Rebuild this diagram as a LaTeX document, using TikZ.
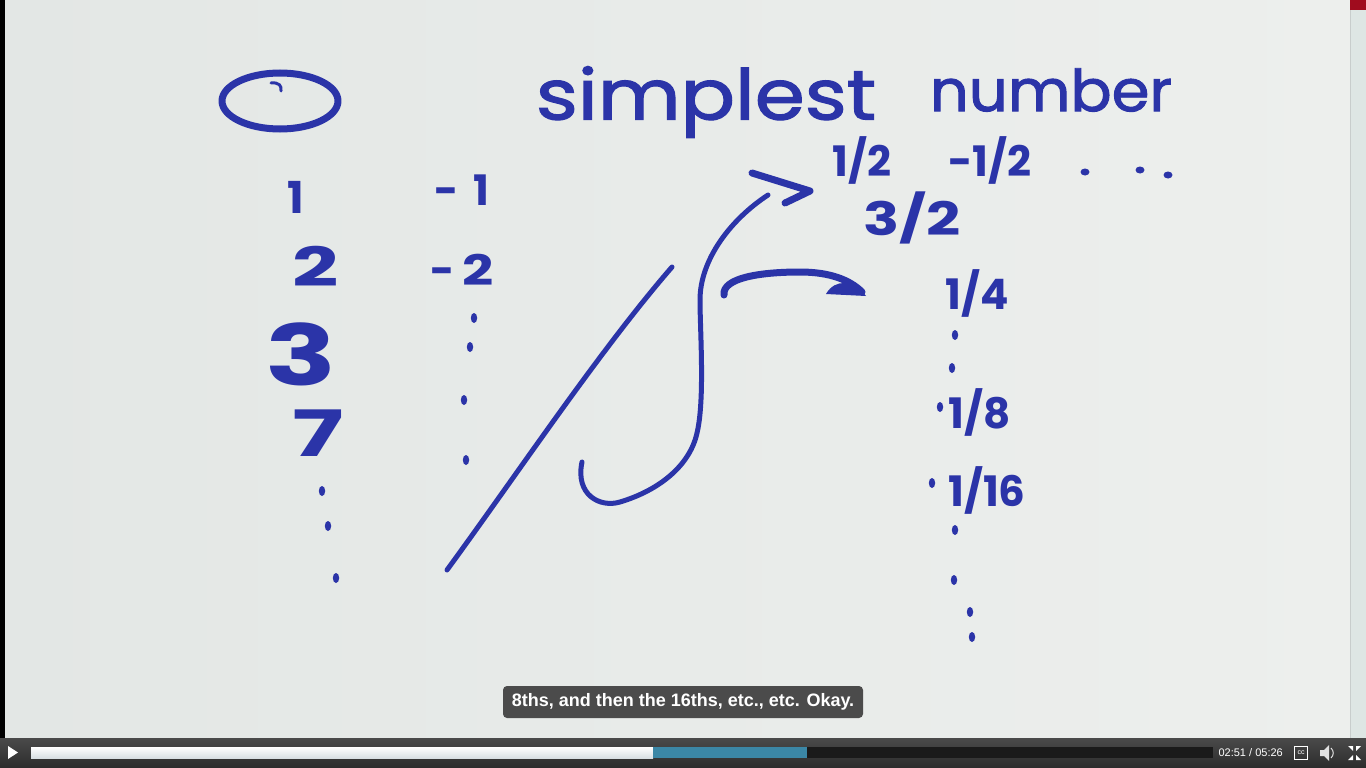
\documentclass[tikz,border=0pt]{standalone}
\usepackage{fontspec}
\setmainfont{Liberation Sans}
\newfontfamily\hand{Poppins}
\newfontfamily\handmid{Poppins}[FakeBold=1.6]
\usetikzlibrary{shapes.geometric,arrows.meta}
\definecolor{ink}{HTML}{2B34A8}
\definecolor{boardL}{HTML}{E3E7E5}
\definecolor{boardR}{HTML}{EDEFED}
\definecolor{barTop}{HTML}{4A4A4A}
\definecolor{barBot}{HTML}{2C2C2C}
\definecolor{played}{HTML}{D8DFE3}
\definecolor{buffered}{HTML}{3B87A6}
\definecolor{capbg}{HTML}{4B4B4B}
\definecolor{redcorner}{HTML}{A00C1E}
\newcommand\hsz[1]{\fontsize{#1}{#1}\selectfont}
\begin{document}
\begin{tikzpicture}[x=1pt,y=-1pt,
  hw/.style={text=ink, inner sep=0pt, anchor=center},
  pen/.style={draw=ink, line width=7pt, line cap=round, line join=round},
  thinpen/.style={draw=ink, line width=5pt, line cap=round, line join=round},
  dotmk/.style={fill=ink},
  ctrl/.style={text=white, inner sep=0pt, font=\hsz{11}}]
\useasboundingbox (0,0) rectangle (1366,768);
% board
\shade[left color=boardL, right color=boardR] (5,0) rectangle (1350,738);
\fill[black] (0,0) rectangle (5,738);
\fill[color={rgb,255:red,222;green,230;blue,228}] (1350,0) rectangle (1366,738);
\draw[color={rgb,255:red,200;green,205;blue,204}, line width=1pt] (1350,0) -- (1350,738);
\fill[redcorner] (1350,0) rectangle (1366,10);

% zero (drawn oval)
\draw[pen] (280,101) ellipse [x radius=58, y radius=28];
\draw[ink, line width=3pt, line cap=round] (271,83) .. controls (279,82) and (282,86) .. (281,91);

% left column
\node[hw, font=\hand\bfseries\hsz{44}] (n1) at (296,197) {1};
\node[hw, font=\hand\bfseries\hsz{54}] (n2) at (316,266) {\scalebox{1.5}[1]{2}};
\node[hw, font=\hand\bfseries\hsz{84}] (n3) at (301,354) {\scalebox{1.4}[1]{3}};
\node[hw, font=\hand\bfseries\hsz{64}] (n4) at (318,433) {\scalebox{1.5}[1]{7}};
\foreach \p in {(322,491),(328,526),(336,578)}
  \fill[dotmk] \p ellipse [x radius=3.2, y radius=5];

% negative column
\node[hw, font=\hand\bfseries\hsz{42}] (m1) at (462,190) {-\kern14pt1};
\node[hw, font=\hand\bfseries\hsz{42}] (m2) at (462,270) {-\kern8pt\scalebox{1.3}[1]{2}};
\foreach \p in {(474,318),(470,347),(464,400),(466,460)}
  \fill[dotmk] \p ellipse [x radius=3.2, y radius=5];

% title
\node[hw, font=\handmid\hsz{70}] (t1) at (706,102) {\scalebox{1.15}[1]{simplest}};
\node[hw, font=\handmid\hsz{58}] (t2) at (1051,90) {\scalebox{1.05}[1]{number}};

% fractions
\node[hw, font=\hand\bfseries\hsz{42}] (h1) at (862,160) {1/2};
\node[hw, font=\hand\bfseries\hsz{42}] (h2) at (990,160) {-1/2};
\foreach \p in {(1085,172),(1140,170),(1168,175)}
  \fill[dotmk] \p ellipse [x radius=4.5, y radius=3.5];
\node[hw, font=\hand\bfseries\hsz{46}] (h3) at (912,218) {\scalebox{1.3}[1]{3/2}};
\node[hw, font=\hand\bfseries\hsz{42}] (q1) at (977,293) {1/4};
\node[hw, font=\hand\bfseries\hsz{42}] (q2) at (980,412) {1/8};
\node[hw, font=\hand\bfseries\hsz{42}] (q3) at (987,490) {1/16};
\foreach \p in {(955,335),(952,368),(940,407),(932,483),(955,530),(954,580),(970,612),(972,637)}
  \fill[dotmk] \p ellipse [x radius=3.2, y radius=5];

% diagonal line
\draw[thinpen] (447,570) .. controls (520,470) and (600,350) .. (672,267);
% S curve
\coordinate (sTop) at (768,195);
\draw[thinpen] (582,462) .. controls (575,495) and (600,508) .. (620,502)
  .. controls (660,490) and (690,465) .. (697,433)
  .. controls (705,400) and (700,330) .. (700,300)
  .. controls (700,260) and (730,220) .. (sTop);
% arrow head >
\draw[pen] (752,173) -- (810,191) -- (785,203);
% arrow to 1/4
\coordinate (aEnd) at (862,292);
\draw[pen] (724,295) .. controls (722,278) and (760,272) .. (800,272)
  .. controls (830,272) and (850,280) .. (aEnd);
\fill[ink] (826,294) .. controls (835,278) and (855,280) .. (866,296) -- cycle;

% caption
\fill[capbg, rounded corners=4pt] (503,686) rectangle (863,718);
\node[text=white, font=\bfseries\hsz{18}, inner sep=0pt] (cap) at (683,702) {8ths, and then the 16ths, etc., etc. Okay.};

% control bar
\shade[top color=barTop, bottom color=barBot] (0,738) rectangle (1366,768);
\fill[color={rgb,255:red,26;green,26;blue,26}] (31,747) rectangle (1213,758);
\shade[top color=white, bottom color=played] (31,747) rectangle (653,758);
\fill[buffered] (653,747) rectangle (807,758);
\fill[white] (8,746) -- (18,752.5) -- (8,759) -- cycle;
\node[ctrl, anchor=east] (time) at (1283,753) {02:51 / 05:26};
\draw[white, line width=0.8pt] (1294.5,746.5) rectangle (1307.5,759.5);
\node[text=white, inner sep=0pt, font=\hsz{7}] (cc) at (1301,753) {cc};
\fill[color={rgb,255:red,225;green,225;blue,225}] (1320,750) -- (1324,750) -- (1329,745) -- (1329,761) -- (1324,756) -- (1320,756) -- cycle;
\draw[color={rgb,255:red,225;green,225;blue,225}, line width=1pt] (1331,748) .. controls (1334,751) and (1334,755) .. (1331,758);
\fill[white] (1348,746) -- (1353,746) -- (1353,751) -- cycle;
\fill[white] (1361,746) -- (1356,746) -- (1356,751) -- cycle;
\fill[white] (1348,760) -- (1353,760) -- (1353,755) -- cycle;
\fill[white] (1361,760) -- (1356,760) -- (1356,755) -- cycle;
\end{tikzpicture}
\end{document}
